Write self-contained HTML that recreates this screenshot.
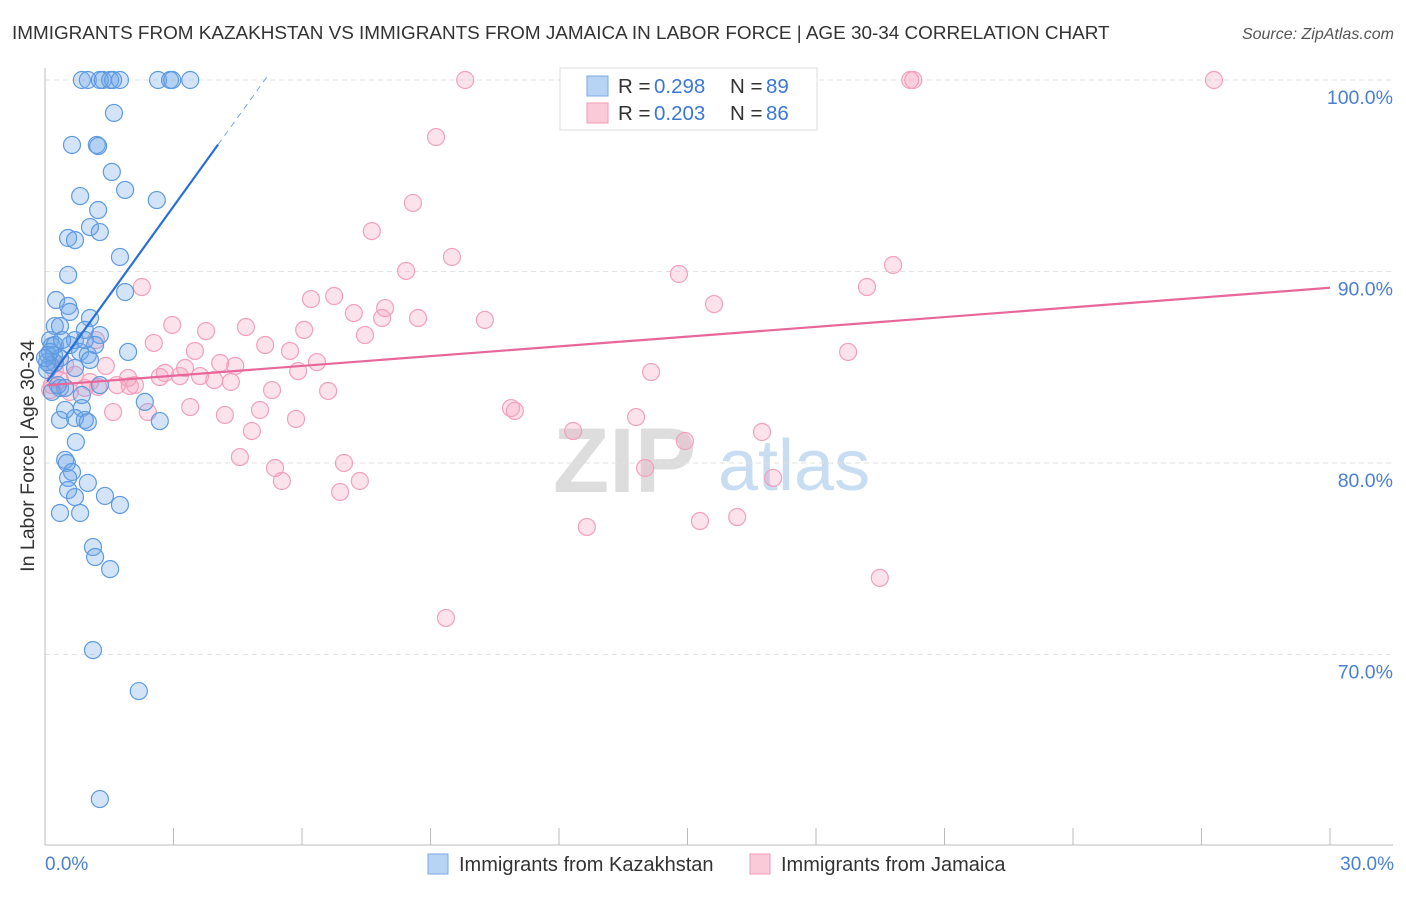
<!DOCTYPE html>
<html><head><meta charset="utf-8"><style>
body{margin:0;background:#fff;font-family:"Liberation Sans",sans-serif}
svg text{font-family:"Liberation Sans",sans-serif}
</style></head><body>
<svg id="chart" width="1406" height="892" viewBox="0 0 1406 892" xmlns="http://www.w3.org/2000/svg">
<text x="12" y="39" font-size="18.9" fill="#333">IMMIGRANTS FROM KAZAKHSTAN VS IMMIGRANTS FROM JAMAICA IN LABOR FORCE | AGE 30-34 CORRELATION CHART</text>
<text x="1394" y="39" font-size="16" fill="#555" font-style="italic" text-anchor="end">Source: ZipAtlas.com</text>
<g>
<text x="553" y="492" font-size="92" font-family="Liberation Serif" fill="#ddd" font-weight="bold">ZIP</text>
<text x="718" y="490" font-size="72" fill="#c8dcf2">atlas</text>
</g>
<g id="grid"></g>
<g id="axes"></g>
<g id="pts"></g>
<g id="trends"></g>
<text transform="translate(34,456) rotate(-90)" font-size="19.5" fill="#333" text-anchor="middle">In Labor Force | Age 30-34</text>
<text x="45" y="870" font-size="19" fill="#4a7fd4">0.0%</text>
<text x="1394" y="870" font-size="19" fill="#4a7fd4" text-anchor="end">30.0%</text>
<g>
<rect x="560" y="68" width="257" height="62" fill="#fff" stroke="#ddd"/>
<rect x="587" y="76" width="21" height="20" fill="#b8d4f5" stroke="#7aaae6"/>
<rect x="587" y="103" width="21" height="20" fill="#fbcad8" stroke="#f09ab5"/>
<text x="618" y="93" font-size="20.5" fill="#333">R =</text>
<text x="654" y="93" font-size="20.5" fill="#3a78d4">0.298</text>
<text x="730" y="93" font-size="20.5" fill="#333">N =</text>
<text x="766" y="93" font-size="20.5" fill="#3a78d4">89</text>
<text x="618" y="120" font-size="20.5" fill="#333">R =</text>
<text x="654" y="120" font-size="20.5" fill="#3a78d4">0.203</text>
<text x="730" y="120" font-size="20.5" fill="#333">N =</text>
<text x="766" y="120" font-size="20.5" fill="#3a78d4">86</text>
</g>
<g>
<rect x="428" y="854" width="20" height="20" fill="#b8d4f5" stroke="#7aaae6"/>
<text x="459" y="871" font-size="20" fill="#333">Immigrants from Kazakhstan</text>
<rect x="750" y="854" width="20" height="20" fill="#fbcad8" stroke="#f09ab5"/>
<text x="781" y="871" font-size="20" fill="#333">Immigrants from Jamaica</text>
</g>
</svg>
<script>
const yTicks=[100,90,80,70];
const yTickLabels=["100.0%","90.0%","80.0%","70.0%"];
const xTicks=[0,3,6,9,12,15,18,21,24,27,30];
const kzX=[0.86,1.00,1.28,1.35,1.52,1.59,1.75,2.64,2.92,2.97,3.39,1.61,0.63,1.21,1.24,1.56,1.87,0.82,2.61,1.24,0.54,0.70,1.05,1.28,1.75,0.54,1.87,0.26,0.54,0.58,1.05,0.23,0.35,0.93,1.28,0.12,0.16,0.70,0.58,0.07,0.21,0.35,0.82,1.00,1.05,1.94,0.12,0.23,0.70,1.28,0.35,0.47,0.16,0.30,0.86,2.33,0.47,0.86,0.35,0.70,0.93,1.00,2.68,0.72,0.47,0.51,0.63,0.54,1.00,0.54,0.70,1.40,1.75,0.35,0.82,1.12,1.17,1.52,1.12,2.19,1.28,0.05,0.05,0.23,0.12,0.00,0.40,1.17,0.93];
const kzY=[100,100,100,100,100,100,100,100,100,100,100,98.28,96.61,96.61,96.55,95.20,94.26,93.94,93.73,93.21,91.75,91.64,92.32,92.06,90.76,89.82,88.93,88.51,88.20,87.89,87.57,87.15,87.15,86.95,86.68,86.42,86.11,86.42,86.16,85.64,85.64,85.48,85.80,85.64,85.38,85.80,85.12,85.22,84.96,84.07,83.92,83.92,83.71,84.07,83.55,83.19,82.77,82.87,82.25,82.35,82.25,82.14,82.19,81.10,80.16,80.00,79.53,79.22,78.96,78.59,78.22,78.28,77.81,77.39,77.39,75.61,75.09,74.46,70.23,68.09,62.45,85.27,84.86,86.16,85.80,85.48,86.42,86.16,86.42];
const jmX=[9.81,20.20,20.27,27.29,9.13,8.59,7.63,9.50,8.43,14.80,19.80,2.26,19.19,15.62,6.21,6.75,7.94,7.21,7.87,8.71,10.27,2.97,3.76,4.69,6.05,7.47,1.19,2.54,5.14,3.50,5.72,18.75,6.35,1.42,4.09,4.44,3.27,5.91,14.15,2.80,2.68,3.15,3.62,3.95,4.34,1.94,1.68,2.10,1.98,5.30,6.61,1.24,0.93,1.05,0.58,3.39,2.40,4.20,5.02,1.59,10.88,10.97,13.80,5.86,4.83,12.33,16.74,14.94,4.55,6.98,5.37,14.01,5.53,7.35,6.89,17.00,12.65,15.29,16.16,19.49,9.36,0.16,0.35,0.70,0.23,0.47,0.12];
const jmY=[100,100,100,100,97.02,93.58,92.11,90.76,90.03,89.87,90.34,89.19,89.19,88.30,88.56,88.72,88.09,87.83,87.57,87.57,87.47,87.21,86.89,87.10,86.95,86.68,86.42,86.27,86.16,85.85,85.85,85.80,85.27,85.07,85.22,85.07,84.96,84.80,84.75,84.70,84.49,84.54,84.54,84.33,84.23,84.44,84.07,84.07,84.02,83.81,83.76,83.97,83.92,84.23,83.71,82.92,82.66,82.51,82.77,82.66,82.87,82.72,82.40,82.30,81.67,81.67,81.62,81.15,80.31,80.00,79.74,79.74,79.06,79.06,78.49,79.22,76.66,76.97,77.18,74.00,71.91,84.07,84.33,84.60,84.86,85.12,83.81];
const kzTrend=[84.1,3.1];
const kzSolidEnd=4.04, kzDashEnd=5.2;
const jmTrend=[84.05,0.17];

const NS="http://www.w3.org/2000/svg";
const X=v=>45+v*(1285/30);
const Y=v=>80+(100-v)*19.15;
function mk(tag,attrs,parent){const e=document.createElementNS(NS,tag);for(const k in attrs)e.setAttribute(k,attrs[k]);parent.appendChild(e);return e;}
const grid=document.getElementById('grid'),axes=document.getElementById('axes'),pts=document.getElementById('pts'),tr=document.getElementById('trends');
yTicks.forEach((t,i)=>{
  const l=mk('line',{x1:45,x2:1393,y1:Y(t),y2:Y(t),stroke:'#e2e2e2','stroke-dasharray':'5,4'},grid);
  
  
  const tx=mk('text',{x:1393,y:Y(t)+24,'font-size':19.5,fill:'#4a7fd4','text-anchor':'end'},axes);
  tx.textContent=yTickLabels[i];
  
  
});
mk('line',{x1:45,x2:45,y1:68,y2:845,stroke:'#bbb'},axes);
mk('line',{x1:45,x2:1393,y1:845,y2:845,stroke:'#bbb'},axes);
xTicks.forEach(t=>{
  const l=mk('line',{x1:X(t),x2:X(t),y1:828,y2:845,stroke:'#bbb'},axes);
  
  
});
jmX.forEach((x,i)=>{
  const c=mk('circle',{cx:X(x),cy:Y(jmY[i]),r:8.5,fill:'rgba(245,160,188,0.3)',stroke:'#f2a0bb','stroke-width':1.2},pts);
  
  
});
kzX.forEach((x,i)=>{
  const c=mk('circle',{cx:X(x),cy:Y(kzY[i]),r:8.5,fill:'rgba(110,165,232,0.3)',stroke:'#5e9ae0','stroke-width':1.2},pts);
  
  
});
const jl=mk('line',{x1:X(0.05),y1:Y(jmTrend[0]+jmTrend[1]*0.05),x2:X(30),y2:Y(jmTrend[0]+jmTrend[1]*30),stroke:'#e8679a','stroke-width':2.2},tr);


const kl=mk('line',{x1:X(0.05),y1:Y(kzTrend[0]+kzTrend[1]*0.05),x2:X(kzSolidEnd),y2:Y(kzTrend[0]+kzTrend[1]*kzSolidEnd),stroke:'#2a6fd6','stroke-width':2.2},tr);


const kd=mk('line',{x1:X(kzSolidEnd),y1:Y(kzTrend[0]+kzTrend[1]*kzSolidEnd),x2:X(kzDashEnd),y2:Y(kzTrend[0]+kzTrend[1]*kzDashEnd),stroke:'#7aa6e6','stroke-width':1,'stroke-dasharray':'6,5'},tr);


</script>
</body></html>
